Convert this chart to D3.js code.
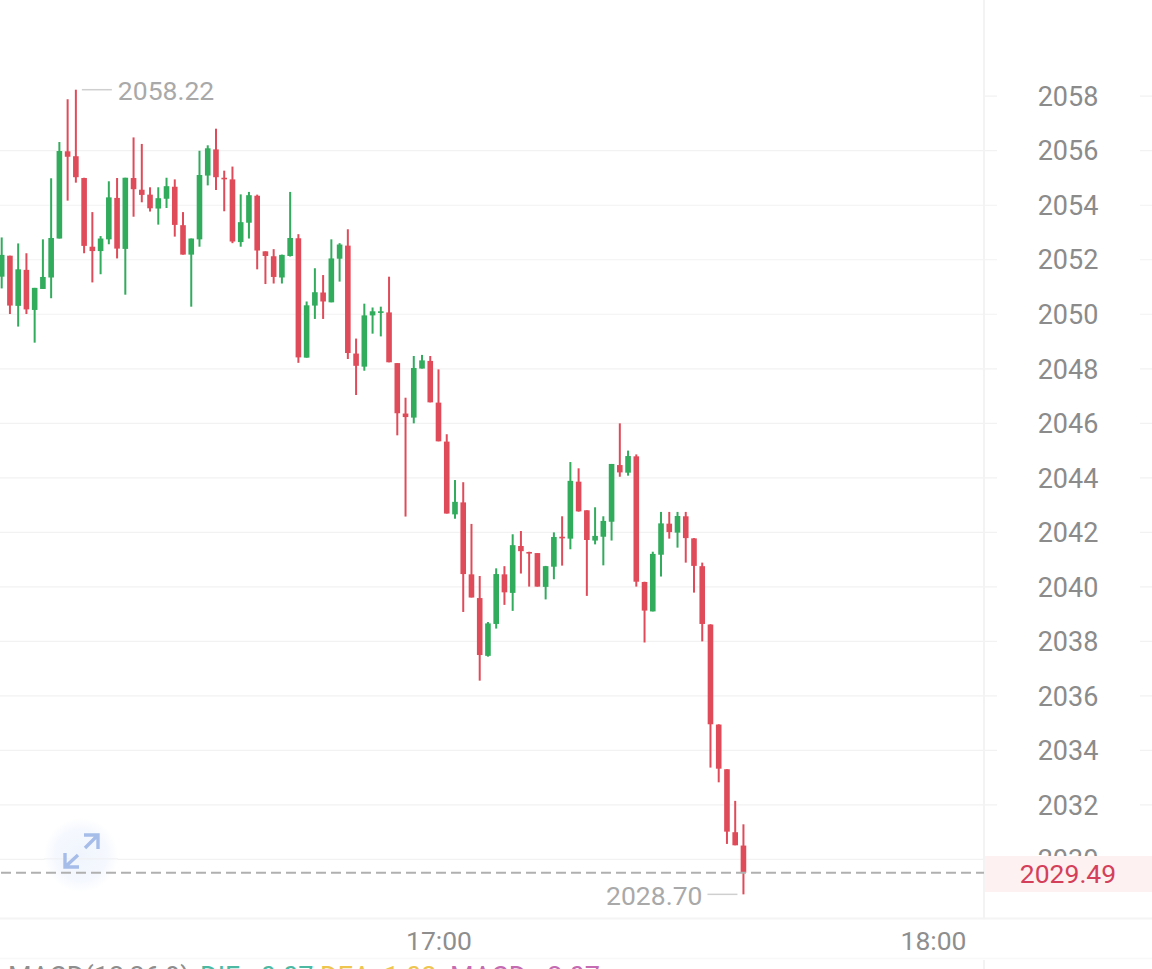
<!DOCTYPE html>
<html><head><meta charset="utf-8">
<script src="https://cdn.jsdelivr.net/npm/d3@7/dist/d3.min.js"></script>
<style>html,body{margin:0;padding:0;background:#fff;overflow:hidden}svg{display:block}text{font-family:Roboto,sans-serif}</style>
</head><body><svg id="c" width="1152" height="969"></svg>
<script>
const firstMinute = "16:07";
const opens = [2051.36,2052.13,2050.29,2051.61,2050.14,2050.91,2051.33,2052.76,2055.96,2055.78,2054.98,2052.46,2052.30,2052.73,2054.25,2052.38,2054.98,2054.55,2054.37,2053.86,2054.22,2054.66,2053.25,2052.17,2052.73,2055.07,2056.03,2054.99,2054.93,2052.63,2053.34,2054.33,2052.29,2052.11,2051.33,2052.12,2052.77,2048.39,2050.30,2050.78,2050.42,2052.02,2052.50,2048.54,2048.06,2049.94,2050.04,2050.05,2048.19,2046.34,2046.19,2047.99,2048.27,2046.74,2045.31,2042.64,2043.08,2040.44,2039.57,2037.45,2038.62,2040.44,2039.76,2041.48,2041.26,2041.22,2039.98,2040.72,2041.82,2041.75,2043.84,2042.79,2041.68,2041.82,2042.37,2044.45,2044.17,2044.77,2040.16,2039.08,2041.16,2042.30,2041.97,2042.57,2041.76,2040.74,2038.60,2034.93,2033.29,2030.98,2030.49];
const highs = [2052.80,2052.13,2052.58,2052.22,2050.95,2052.73,2054.97,2056.30,2057.87,2058.22,2054.99,2053.73,2052.85,2054.86,2054.98,2054.99,2056.47,2056.23,2054.64,2054.64,2054.99,2054.93,2053.73,2052.76,2055.98,2056.18,2056.79,2055.25,2055.40,2054.38,2054.47,2054.37,2052.29,2052.37,2052.17,2054.47,2052.92,2050.45,2051.67,2051.42,2052.73,2052.59,2053.10,2049.09,2050.37,2050.23,2050.26,2051.36,2048.19,2046.92,2048.45,2048.49,2048.45,2047.96,2045.58,2043.90,2043.82,2042.29,2040.38,2038.69,2040.66,2040.74,2041.91,2042.03,2041.27,2041.22,2040.75,2041.98,2042.57,2044.56,2044.33,2042.79,2042.90,2042.57,2044.49,2045.98,2044.98,2044.84,2040.17,2041.27,2042.73,2042.73,2042.73,2042.73,2041.77,2040.87,2038.61,2034.94,2033.29,2032.13,2031.27];
const lows = [2050.93,2049.99,2049.53,2049.99,2048.94,2050.91,2050.57,2052.76,2054.15,2054.81,2052.22,2051.15,2051.45,2052.55,2052.03,2050.70,2053.56,2054.09,2053.75,2053.27,2053.88,2052.83,2052.17,2050.26,2052.46,2054.71,2054.54,2053.76,2052.59,2052.46,2052.76,2051.63,2051.09,2051.11,2051.11,2052.10,2048.20,2048.39,2049.81,2049.81,2050.42,2051.18,2048.34,2047.02,2047.91,2049.27,2049.17,2048.22,2045.54,2042.56,2045.98,2047.99,2046.75,2045.32,2042.67,2042.48,2039.06,2039.59,2036.54,2037.42,2038.45,2039.32,2039.10,2040.47,2039.99,2039.99,2039.52,2040.26,2040.76,2041.36,2042.74,2039.65,2041.54,2040.77,2041.68,2044.02,2044.06,2039.99,2037.94,2039.08,2040.36,2041.75,2041.42,2040.87,2039.77,2037.98,2033.35,2032.81,2030.55,2030.50,2028.70];
const closes = [2052.16,2050.30,2051.63,2050.16,2050.95,2051.35,2052.78,2055.97,2055.76,2055.01,2052.49,2052.30,2052.76,2054.27,2052.39,2054.99,2054.57,2054.36,2053.87,2054.24,2054.68,2053.26,2052.17,2052.76,2055.09,2056.07,2055.01,2054.96,2052.65,2053.36,2054.35,2052.32,2052.12,2051.35,2052.16,2052.78,2048.40,2050.31,2050.79,2050.45,2052.03,2052.54,2048.56,2048.09,2049.94,2050.09,2050.09,2048.22,2046.35,2046.21,2048.01,2048.29,2046.75,2045.32,2042.67,2043.10,2040.45,2039.59,2037.48,2038.64,2040.45,2039.78,2041.51,2041.29,2041.22,2039.99,2040.74,2041.81,2041.76,2043.87,2042.75,2041.70,2041.85,2042.40,2044.49,2044.18,2044.78,2040.17,2039.11,2041.19,2042.31,2041.99,2042.58,2041.77,2040.75,2038.62,2034.94,2033.31,2031.00,2030.50,2029.49];
const priceTicks = [2058,2056,2054,2052,2050,2048,2046,2044,2042,2040,2038,2036,2034,2032,2030];
const timeTicks = ["17:00","18:00"];
const lastPrice = 2029.49;
const maxPrice = 2058.22, minPrice = 2028.70;
const maxIndex = 9, minIndex = 90;
const indicatorLabels = ["MACD(12,26,9)","DIF: -0.07","DEA: 1.03","MACD: -2.07"];

const svg = d3.select("#c");
const parse = d3.timeParse("%H:%M");
const y = d3.scaleLinear().domain([2058,2032]).range([95.7,804.4]);
const x = d3.scaleTime().domain([parse("17:00"),parse("18:00")]).range([438.5,933]);
const t0 = parse(firstMinute);
const times = opens.map((_,i)=>d3.timeMinute.offset(t0,i));

const defs = svg.append("defs");
const rg = defs.append("radialGradient").attr("id","halo");
rg.append("stop").attr("offset","0%").attr("stop-color","#f0f5fd");
rg.append("stop").attr("offset","70%").attr("stop-color","#f5f8fe");
rg.append("stop").attr("offset","100%").attr("stop-color","#ffffff");

const gridAxis = d3.axisRight(y).tickValues(priceTicks).tickSize(1152).tickFormat("");
const grid = svg.append("g").call(gridAxis);
grid.select(".domain").remove();
grid.selectAll(".tick line").attr("stroke","#f2f2f2").attr("stroke-width",1.2)
  .attr("x1",d=>d===2058?984:0);

svg.append("rect").attr("x",997).attr("y",0).attr("width",143).attr("height",919).attr("fill","#fff");
svg.append("line").attr("x1",984).attr("x2",984).attr("y1",0).attr("y2",918).attr("stroke","#f3f3f3").attr("stroke-width",2);
svg.append("line").attr("x1",984).attr("x2",984).attr("y1",960).attr("y2",969).attr("stroke","#f3f3f3").attr("stroke-width",2);
svg.append("line").attr("x1",0).attr("x2",1152).attr("y1",918.5).attr("y2",918.5).attr("stroke","#f4f4f4").attr("stroke-width",2);
svg.append("line").attr("x1",0).attr("x2",1152).attr("y1",958.5).attr("y2",958.5).attr("stroke","#f8f8f8").attr("stroke-width",1.5);

const icon = svg.append("g");
icon.append("circle").attr("cx",81).attr("cy",855).attr("r",37).attr("fill","url(#halo)");
svg.append("line").attr("x1",44).attr("x2",118).attr("y1",y(2030)).attr("y2",y(2030)).attr("stroke","#eeeff2").attr("stroke-width",1);

const arrows = svg.append("g").attr("fill","none").attr("stroke","#a6bde9").attr("stroke-width",3.4);
arrows.append("path").attr("d","M84,835H98V849M98,835L85,848");
arrows.append("path").attr("d","M65,853V867H79M65,867L78,855");

const colorUp = "#31ab5c", colorDown = "#e04b59";
const idx = d3.range(opens.length);
const col = i => closes[i] >= opens[i] ? colorUp : colorDown;
const c = svg.append("g");
c.selectAll("line.w").data(idx).join("line").attr("class","w")
  .attr("x1",i=>x(times[i])).attr("x2",i=>x(times[i]))
  .attr("y1",i=>y(highs[i])).attr("y2",i=>y(lows[i]))
  .attr("stroke",col).attr("stroke-width",2);
c.selectAll("rect.b").data(idx).join("rect").attr("class","b")
  .attr("x",i=>x(times[i])-2.8).attr("width",5.6)
  .attr("y",i=>y(Math.max(opens[i],closes[i])))
  .attr("height",i=>Math.max(1.6,Math.abs(y(opens[i])-y(closes[i]))))
  .attr("fill",col);

svg.append("line").attr("x1",0).attr("x2",984).attr("y1",y(lastPrice)).attr("y2",y(lastPrice))
  .attr("stroke","#b0b0b0").attr("stroke-width",2).attr("stroke-dasharray","10,5").attr("stroke-dashoffset",-1);

const axis = d3.axisRight(y).tickValues(priceTicks).tickSize(0).tickFormat(d3.format("d"));
const ag = svg.append("g").call(axis);
ag.select(".domain").remove();
ag.selectAll("text").attr("x",1068).attr("text-anchor","middle").attr("dy","0.36em")
  .attr("fill","#8b8b8b").style("font-size","27px").style("font-family","Roboto,sans-serif");

svg.append("rect").attr("x",985).attr("y",856).attr("width",167).attr("height",36).attr("fill","#fdf1f1");
svg.append("text").attr("x",1068).attr("y",y(lastPrice)+1).attr("dy","0.36em").attr("text-anchor","middle")
  .attr("fill","#d4405a").style("font-size","26.5px").text(lastPrice.toFixed(2));

const noteColor = "#a9a9a9";
svg.append("line").attr("x1",x(times[maxIndex])+6).attr("x2",x(times[maxIndex])+36).attr("y1",y(maxPrice)).attr("y2",y(maxPrice)).attr("stroke","#cfcfcf").attr("stroke-width",1.5);
svg.append("text").attr("x",x(times[maxIndex])+42).attr("y",y(maxPrice)+0.5).attr("dy","0.36em").attr("fill",noteColor).style("font-size","26.5px").text(maxPrice.toFixed(2));
svg.append("line").attr("x1",x(times[minIndex])-6).attr("x2",x(times[minIndex])-36).attr("y1",y(minPrice)).attr("y2",y(minPrice)).attr("stroke","#cfcfcf").attr("stroke-width",1.5);
svg.append("text").attr("x",x(times[minIndex])-41).attr("y",y(minPrice)+1).attr("dy","0.36em").attr("text-anchor","end").attr("fill",noteColor).style("font-size","26.5px").text(minPrice.toFixed(2));

const tAxis = d3.axisBottom(x).tickValues(timeTicks.map(parse)).tickSize(0).tickFormat(d3.timeFormat("%H:%M"));
const tg = svg.append("g").attr("transform","translate(0,940)").call(tAxis);
tg.select(".domain").remove();
tg.selectAll("text").attr("y",0).attr("dy","0.36em").attr("fill","#8e8e8e").style("font-size","26.5px").style("font-family","Roboto,sans-serif");

const indX = [8,200,320,450];
const indC = ["#8e8e8e","#4db9a2","#eec54e","#c56bb2"];
svg.selectAll("text.ind").data(indicatorLabels).join("text").attr("class","ind")
  .attr("x",(d,i)=>indX[i]).attr("y",986).attr("fill",(d,i)=>indC[i]).style("font-size","27px").text(d=>d);
</script></body></html>
